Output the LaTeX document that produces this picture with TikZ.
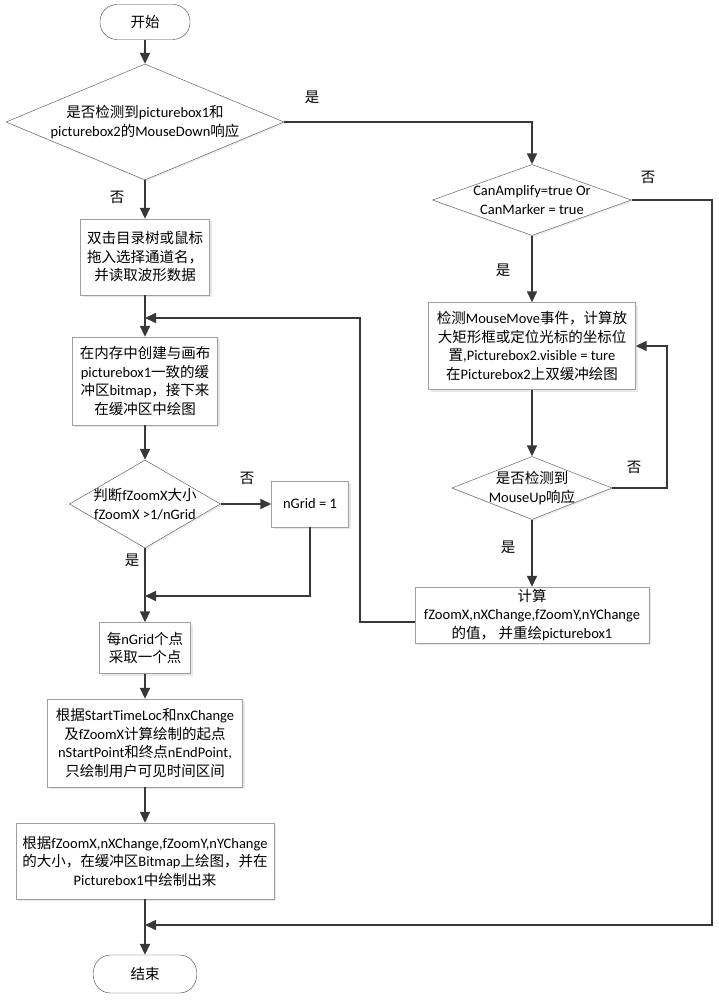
\documentclass[tikz,border=0pt]{standalone}
\usepackage{fontspec}
\setmainfont{Carlito}
\newfontfamily\cjkfont{Noto Sans CJK SC}
% switch to the CJK font for Chinese characters
\XeTeXinterchartokenstate=1
\newXeTeXintercharclass\hzclass
\newcount\hzc
\hzc="4E00
\loop
  \XeTeXcharclass\hzc=\hzclass
  \advance\hzc by 1
\ifnum\hzc<"A000 \repeat
\XeTeXcharclass"FF0C=\hzclass
\XeTeXinterchartoks 0 \hzclass = {\cjkfont}
\XeTeXinterchartoks 4095 \hzclass = {\cjkfont}
\XeTeXinterchartoks \hzclass 0 = {\rmfamily}
\XeTeXinterchartoks \hzclass 4095 = {\rmfamily}
\usetikzlibrary{shapes.geometric, arrows.meta, shadows}

\tikzset{
  every node/.style={font=\fontsize{14.5pt}{18.5pt}\selectfont},
  proc/.style={draw=gray!75, fill=white, align=center, inner sep=2pt,
    drop shadow={shadow xshift=2pt, shadow yshift=-2pt, fill=gray!35}},
  decide/.style={diamond, draw=black!70, fill=white, align=center, inner sep=-5pt,
    drop shadow={shadow xshift=1.5pt, shadow yshift=-1.5pt, fill=gray!30}},
  term/.style={draw=black!75, fill=white, rounded corners=17pt},
  flow/.style={draw=black!78, line width=1.6pt, -{Triangle[length=11pt,width=10pt]}},
}

\begin{document}
\begin{tikzpicture}[x=1pt, y=-1pt]
\useasboundingbox (0,0) rectangle (718,1000);

% Left column
\node[term, minimum width=90pt, minimum height=35pt] (start) at (145,22) {开始};
\node[decide, minimum width=278pt, minimum height=116pt, shape aspect=2.4] (d1) at (145,122)
  {是否检测到picturebox1和\\picturebox2的MouseDown响应};
\node[proc, minimum width=129pt, minimum height=76pt] (L1) at (145,257)
  {双击目录树或鼠标\\拖入选择通道名，\\并读取波形数据};
\node[proc, minimum width=145pt, minimum height=88pt] (L2) at (145,381)
  {在内存中创建与画布\\picturebox1一致的缓\\冲区bitmap，接下来\\在缓冲区中绘图};
\node[decide, minimum width=151pt, minimum height=88pt, shape aspect=1.72] (d4) at (145,504)
  {判断fZoomX大小\\fZoomX >1/nGrid};
\node[proc, minimum width=77pt, minimum height=46pt] (ngrid) at (310,504) {nGrid = 1};
\node[proc, minimum width=91pt, minimum height=51pt] (L4) at (145,648)
  {每nGrid个点\\采取一个点};
\node[proc, minimum width=195pt, minimum height=88pt] (L5) at (145,743)
  {根据StartTimeLoc和nxChange\\及fZoomX计算绘制的起点\\nStartPoint和终点nEndPoint,\\只绘制用户可见时间区间};
\node[proc, minimum width=258pt, minimum height=76pt] (L6) at (145,861)
  {根据fZoomX,nXChange,fZoomY,nYChange\\的大小，在缓冲区Bitmap上绘图，并在\\Picturebox1中绘制出来};
\node[term, minimum width=103pt, minimum height=38pt] (end) at (145,974) {结束};

% Right column
\node[decide, minimum width=199pt, minimum height=71pt, shape aspect=2.8] (d2) at (532,200)
  {CanAmplify=true Or\\CanMarker = true};
\node[proc, minimum width=207pt, minimum height=87pt] (R1) at (532,346)
  {检测MouseMove事件，计算放\\大矩形框或定位光标的坐标位\\置,Picturebox2.visible = ture\\在Picturebox2上双缓冲绘图};
\node[decide, minimum width=160pt, minimum height=63pt, shape aspect=2.54] (d3) at (532,488)
  {是否检测到\\MouseUp响应};
\node[proc, minimum width=234pt, minimum height=56pt] (R3) at (532,615)
  {计算\\fZoomX,nXChange,fZoomY,nYChange\\的值， 并重绘picturebox1};

% Yes / no labels
\node (yes1) at (312,97) {是};
\node (no1) at (117,197) {否};
\node (no2) at (648,177) {否};
\node (yes2) at (503,270) {是};
\node (no3) at (634,467) {否};
\node (yes3) at (508,547) {是};
\node (no4) at (247,478) {否};
\node (yes4) at (132,560) {是};

% Merge points
\coordinate (mergeA) at (145,318);
\coordinate (mergeB) at (145,596);
\coordinate (mergeC) at (145,925);
\coordinate (farR) at (712,200);
\coordinate (backX) at (360,0);

% Arrows
\draw[flow] (start) -- (d1);
\draw[flow] (d1) -- (L1);
\draw[flow] (L1) -- (L2);
\draw[flow] (L2) -- (d4);
\draw[flow] (d4) -- (ngrid);
\draw[flow] (ngrid.south) |- (mergeB);
\draw[flow] (d4) -- (L4);
\draw[flow] (L4) -- (L5);
\draw[flow] (L5) -- (L6);
\draw[flow] (L6) -- (end);

\draw[flow] (d1.east) -| (d2.north);
\draw[flow] (d2.east) -- (farR) |- (mergeC);
\draw[flow] (d2) -- (R1);
\draw[flow] (R1) -- (d3);
\draw[flow] (d3.east) -- ++(55,0) |- (R1.east);
\draw[flow] (d3) -- (R3);
\draw[flow] ([yshift=-7pt]R3.west) -- ([yshift=-7pt]R3.west -| backX) |- (mergeA);

\end{tikzpicture}
\end{document}
